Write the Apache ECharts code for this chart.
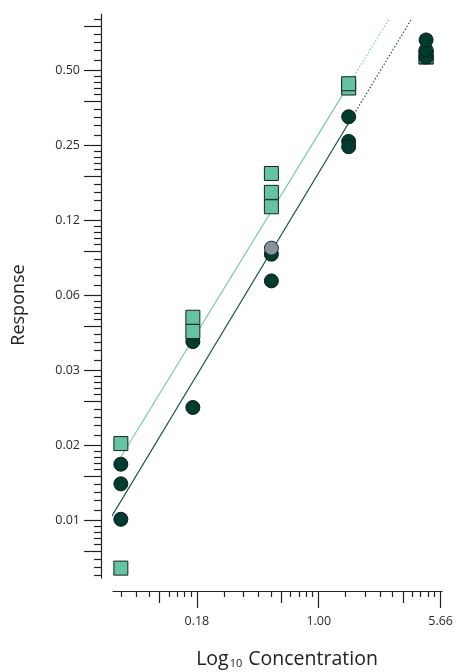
<!DOCTYPE html>
<html>
<head>
<meta charset="utf-8">
<script src="https://cdn.jsdelivr.net/npm/echarts@6/dist/echarts.min.js"></script>
<style>html,body{margin:0;padding:0;background:#fff}#chart{width:456px;height:672px}</style>
</head>
<body>
<div id="chart"></div>
<script>
// ---- data (observations listed in drawing order) ----
const obsConc = [
  0.06, 0.06, 0.06, 0.06, 0.06,
  0.167, 0.167, 0.167, 0.167,
  0.51, 0.51, 0.51, 0.51, 0.51, 0.51,
  1.53, 1.53, 1.53, 1.53, 1.53,
  4.6, 4.6, 4.6, 4.6, 4.6
];
const obsResp = [
  0.0159, 0.00503, 0.01314, 0.01096, 0.0079,
  0.0408, 0.0222, 0.0448, 0.0511,
  0.193, 0.1621, 0.1419, 0.0915, 0.0715, 0.0968,
  0.4252, 0.4423, 0.3259, 0.2595, 0.2472,
  0.566, 0.568, 0.566, 0.604, 0.663
];
// A = dark circles, B = teal squares, C = grey circle
const obsGroup = [
  'B', 'B', 'A', 'A', 'A',
  'A', 'A', 'B', 'B',
  'B', 'B', 'B', 'A', 'A', 'C',
  'B', 'B', 'A', 'A', 'A',
  'B', 'B', 'A', 'A', 'A'
];
// fitted lines: start, end of fitted range, end of extrapolation
const fitBConc = [0.06, 1.53, 2.744];
const fitBResp = [0.01405, 0.4378, 0.812];
const fitAConc = [0.0482, 1.53, 3.769];
const fitAResp = [0.00737, 0.3077, 0.812];

// tick labels (axes are log base 2)
const xTickExp = [-2.5, 0, 2.5];
const xTickLabels = ['0.18', '1.00', '5.66'];
const yTickExp = [-7, -6, -5, -4, -3, -2, -1];
const yTickLabels = ['0.01', '0.02', '0.03', '0.06', '0.12', '0.25', '0.50'];

// ---- layout / style ----
const FONT = '"Open Sans", "Noto Sans", sans-serif';
const xMin = -4.22, xMax = 2.53;
const yMin = -7.767, yMax = -0.247;
const AX = '#222';
const colA = '#003c30', colB = '#66c2a5', colC = '#8a929c';
const lineA = '#0f5147', lineB = '#76cbb0';

function minorTicks(majorsExp, lo, hi) {
  const minor = [], mid = [];
  for (let k = 0; k < majorsExp.length - 1; k++) {
    const a = Math.pow(2, majorsExp[k]), b = Math.pow(2, majorsExp[k + 1]);
    for (let i = 1; i < 10; i++) {
      const v = Math.log2(a + (b - a) * i / 10);
      if (v < lo || v > hi) continue;
      (i === 5 ? mid : minor).push(v);
    }
  }
  return {minor, mid};
}
const xm = minorTicks([-5, -2.5, 0, 2.5, 5], xMin, xMax);
const ym = minorTicks([-8, -7, -6, -5, -4, -3, -2, -1, 0], yMin, yMax);

const hidden = {
  splitLine: {show: false},
  axisLine: {show: false, onZero: false},
  axisLabel: {show: false},
  axisTick: {show: false}
};
function xAxisDef(extra) {
  return Object.assign({type: 'value', min: xMin, max: xMax, position: 'bottom', offset: 13, gridIndex: 0}, JSON.parse(JSON.stringify(hidden)), extra);
}
function yAxisDef(extra) {
  return Object.assign({type: 'value', min: yMin, max: yMax, position: 'left', offset: 12, gridIndex: 0}, JSON.parse(JSON.stringify(hidden)), extra);
}
const tickStyle = {color: AX, width: 1.2};

const xAxes = [
  xAxisDef({
    axisLine: {show: true, onZero: false, lineStyle: {color: AX, width: 1.2}},
    axisTick: {show: true, customValues: xTickExp, length: 17, lineStyle: tickStyle},
    axisLabel: {show: true, customValues: xTickExp, margin: 24, fontSize: 12.5, fontFamily: FONT, color: '#2a2a2a',
      formatter: v => xTickLabels[xTickExp.findIndex(t => Math.abs(t - v) < 1e-6)]}
  }),
  xAxisDef({axisTick: {show: true, customValues: xm.minor, length: 6, lineStyle: tickStyle}}),
  xAxisDef({axisTick: {show: true, customValues: xm.mid, length: 12, lineStyle: tickStyle}})
];
const yAxes = [
  yAxisDef({
    axisLine: {show: true, onZero: false, lineStyle: {color: AX, width: 1.2}},
    axisTick: {show: true, customValues: yTickExp, length: 17, lineStyle: tickStyle},
    axisLabel: {show: true, customValues: yTickExp, margin: 21, fontSize: 12.5, fontFamily: FONT, color: '#2a2a2a',
      formatter: v => yTickLabels[yTickExp.findIndex(t => Math.abs(t - v) < 1e-6)]}
  }),
  yAxisDef({axisTick: {show: true, customValues: ym.minor, length: 7, lineStyle: tickStyle}}),
  yAxisDef({axisTick: {show: true, customValues: ym.mid, length: 17, lineStyle: tickStyle}})
];

const styleFor = {
  A: {symbol: 'circle', itemStyle: {color: colA, borderColor: '#0a1a16', borderWidth: 1, opacity: 1}},
  B: {symbol: 'rect', itemStyle: {color: colB, borderColor: '#15231f', borderWidth: 1, opacity: 1}},
  C: {symbol: 'circle', itemStyle: {color: colC, borderColor: '#1e2a28', borderWidth: 1, opacity: 1}}
};
const scatterData = obsConc.map((c, i) => Object.assign(
  {value: [Math.log2(c), Math.log2(obsResp[i])]}, styleFor[obsGroup[i]]));

function seg(conc, resp, a, b) {
  return [[Math.log2(conc[a]), Math.log2(resp[a])], [Math.log2(conc[b]), Math.log2(resp[b])]];
}
function lineSeries(data, color, dotted) {
  return {
    type: 'line', data, symbol: 'none', clip: false, silent: true, z: 1,
    lineStyle: {color, width: 1.2, type: dotted ? [1.4, 2] : 'solid'},
    animation: false
  };
}

const option = {
  animation: false,
  grid: {left: 113, right: 12, top: 14, bottom: 94, containLabel: false},
  xAxis: xAxes,
  yAxis: yAxes,
  series: [
    lineSeries(seg(fitBConc, fitBResp, 0, 1), lineB, false),
    lineSeries(seg(fitBConc, fitBResp, 1, 2), lineB, true),
    lineSeries(seg(fitAConc, fitAResp, 0, 1), lineA, false),
    lineSeries(seg(fitAConc, fitAResp, 1, 2), lineA, true),
    {type: 'scatter', symbolSize: 14, data: scatterData, z: 3, animation: false,
      itemStyle: {opacity: 1}, emphasis: {disabled: true}}
  ],
  graphic: [
    {type: 'text', x: 19, y: 305, rotation: Math.PI / 2,
      style: {text: 'Response', fontSize: 18, fontFamily: FONT, fill: '#222',
        align: 'center', verticalAlign: 'middle', textAlign: 'center', textVerticalAlign: 'middle'}},
    {type: 'text', x: 287, y: 659,
      style: {text: '{a|Log}{s|10}{a| Concentration}', fill: '#222',
        align: 'center', verticalAlign: 'middle', textAlign: 'center', textVerticalAlign: 'middle',
        rich: {
          a: {fontSize: 19.5, fontFamily: FONT, fill: '#222'},
          s: {fontSize: 11, fontFamily: FONT, fill: '#222', verticalAlign: 'bottom', padding: [9, 1, 0, 1]}
        }}}
  ]
};
const chart = echarts.init(document.getElementById('chart'), null, {renderer: 'canvas'});
chart.setOption(option);
</script>
</body>
</html>
